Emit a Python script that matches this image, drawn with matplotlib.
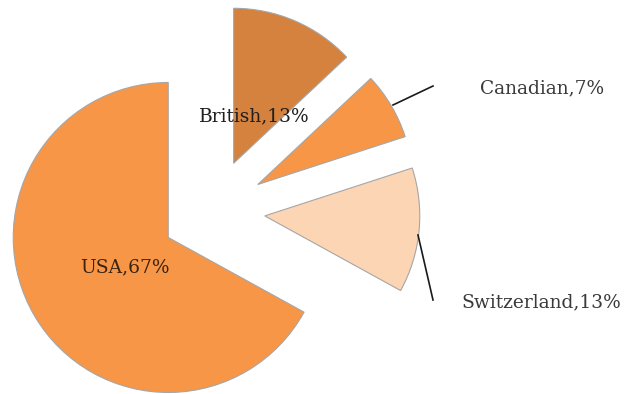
import matplotlib
matplotlib.use('Agg')
from matplotlib import pyplot as plt

# slice order runs clockwise from 12 o'clock
names = ['British', 'Canadian', 'Switzerland', 'USA']
shares = [13, 7, 13, 67]
colors = ['#D4823D', '#F79646', '#FCD5B5', '#F79646']

W, H = 627, 394
fig = plt.figure(figsize=(W / 100, H / 100), dpi=100)
ax = fig.add_axes([0, 0, 1, 1])

# radius and explode are in pixel-sized data units
R = 155
cx, cy = 213, H - 211
ax.pie(shares, colors=colors, startangle=90, counterclock=False,
       radius=R, center=(cx, cy), explode=[52] * 4, frame=True,
       wedgeprops=dict(edgecolor='#A6A6A6', linewidth=0.8))

ax.set_xlim(0, W)
ax.set_ylim(0, H)
ax.set_aspect('equal')
ax.axis('off')

labels = [f'{n},{s}%' for n, s in zip(names, shares)]
spots = [(254, 116), (542, 88), (541, 302), (125, 267)]
shade = ['#1f1f1f', '#3a3a3a', '#3a3a3a', '#3a2410']
for lab, (x, y), c in zip(labels, spots, shade):
    ax.text(x, H - y, lab, ha='center', va='center', fontsize=13.4,
            family='DejaVu Serif', color=c)

# leader lines for the two outer labels
ax.plot([393, 433], [H - 105, H - 86], color='#1a1a1a', lw=1.2)
ax.plot([418, 433], [H - 235, H - 300], color='#1a1a1a', lw=1.2)

fig.savefig('out.png', dpi=100)
